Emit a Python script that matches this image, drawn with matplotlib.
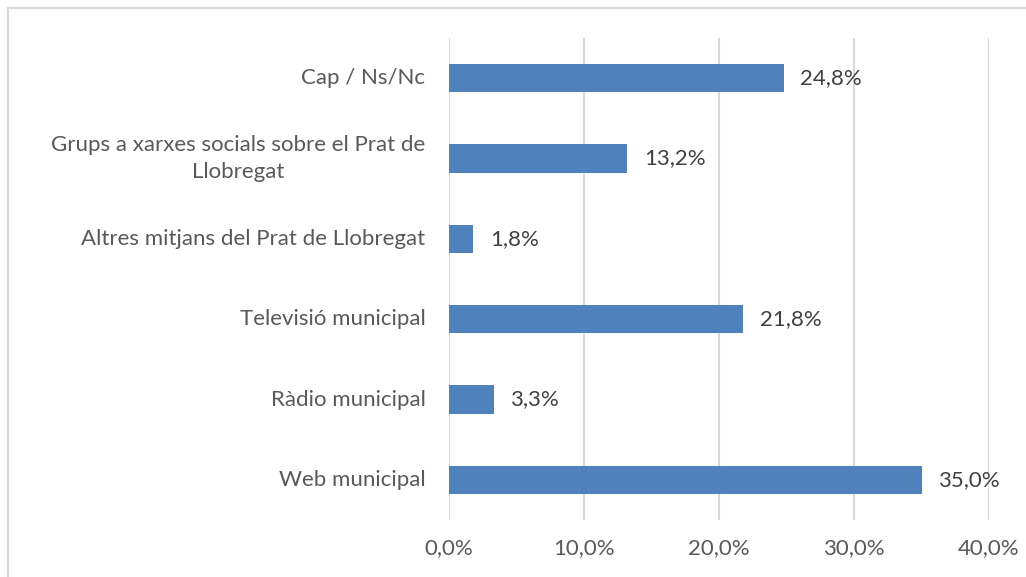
import matplotlib
matplotlib.use("Agg")
import matplotlib.pyplot as plt
from matplotlib.patches import Rectangle
from matplotlib.ticker import FuncFormatter
from matplotlib.transforms import offset_copy

# Survey responses (share of respondents, %)
categories = [
    "Web municipal",
    "Ràdio municipal",
    "Televisió municipal",
    "Altres mitjans del Prat de Llobregat",
    "Grups a xarxes socials sobre el Prat de\nLlobregat",
    "Cap / Ns/Nc",
]
values = [35.0, 3.3, 21.8, 1.8, 13.2, 24.8]
x_ticks = [0, 10, 20, 30, 40]

plt.rcParams["font.family"] = ["Lato", "DejaVu Sans"]

fig = plt.figure(figsize=(10.26, 5.77), dpi=100)
ax = fig.add_axes([449 / 1026, 1 - 520 / 577, 540 / 1026, 482 / 577])

bar_color = "#4F81BD"
grid_color = "#D9D9D9"
label_color = "#595959"
value_color = "#404040"

y = list(range(len(categories)))
ax.barh(y, values, height=0.355, color=bar_color, zorder=3)

for yi, v in zip(y, values):
    ax.annotate(f"{v:.1f}%".replace(".", ","), xy=(v, yi), xytext=(12, 0),
                textcoords="offset points", va="center", ha="left",
                fontsize=16, color=value_color)

ax.set_xlim(0, 40)
ax.set_ylim(-0.5, len(categories) - 0.5)
ax.set_xticks(x_ticks)
ax.xaxis.set_major_formatter(FuncFormatter(lambda v, p: f"{v:.1f}%".replace(".", ",")))
ax.set_yticks(y)
ax.set_yticklabels([])

ax.tick_params(axis="both", length=0, labelsize=16, labelcolor=label_color)
ax.tick_params(axis="x", pad=13)

# Category labels: right-aligned against the axis, wrapped lines centred
label_trans = offset_copy(ax.get_yaxis_transform(), fig=fig, x=-17, y=0, units="points")
for yi, name in zip(y, categories):
    ax.text(0, yi, name, transform=label_trans, ha="right", va="center",
            multialignment="center", linespacing=1.4, fontsize=16,
            color=label_color)

ax.grid(axis="x", color=grid_color, linewidth=1.5, zorder=0)
for s in ax.spines.values():
    s.set_visible(False)

# Chart-area frame
fig.patches.append(Rectangle((8 / 1026, -0.05), 1.1, 1 - 8 / 577 + 0.05,
                             transform=fig.transFigure, fill=False,
                             edgecolor=grid_color, linewidth=1.5))

fig.savefig("out.png", dpi=100)
